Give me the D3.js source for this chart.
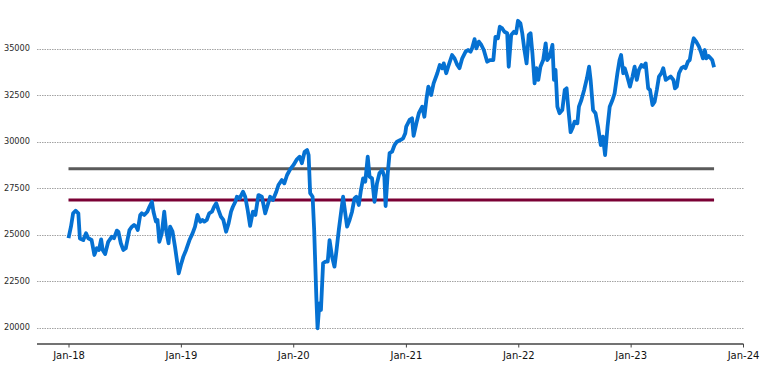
<!DOCTYPE html>
<html>
<head>
<meta charset="utf-8">
<script src="https://cdn.jsdelivr.net/npm/d3@7"></script>
<style>
  html, body { margin: 0; padding: 0; background: #ffffff; }
  svg { display: block; }
</style>
</head>
<body>
<svg id="chart" width="763" height="367"></svg>
<script>
// ---- data ----
const dates = [
  "2018-01-01","2018-01-09","2018-01-16","2018-01-24","2018-02-02","2018-02-07","2018-02-18","2018-02-27",
  "2018-03-06","2018-03-17","2018-03-26","2018-04-03","2018-04-10","2018-04-17","2018-04-22","2018-04-30",
  "2018-05-10","2018-05-22","2018-05-29","2018-06-07","2018-06-12","2018-06-20","2018-06-28","2018-07-06",
  "2018-07-18","2018-07-26","2018-08-02","2018-08-09","2018-08-14","2018-08-22","2018-08-27","2018-09-04",
  "2018-09-14","2018-09-21","2018-09-29","2018-10-04","2018-10-12","2018-10-17","2018-10-23","2018-10-31",
  "2018-11-08","2018-11-14","2018-11-22","2018-11-27","2018-12-05","2018-12-13","2018-12-19","2018-12-25",
  "2019-01-01","2019-01-09","2019-01-18","2019-01-29","2019-02-08","2019-02-16","2019-02-24","2019-03-05",
  "2019-03-12","2019-03-18","2019-03-26","2019-04-03","2019-04-12","2019-04-19","2019-04-26","2019-05-03",
  "2019-05-11","2019-05-19","2019-05-28","2019-06-05","2019-06-13","2019-06-19","2019-06-27","2019-07-02",
  "2019-07-11","2019-07-22","2019-07-29","2019-08-06","2019-08-14","2019-08-23","2019-08-31","2019-09-10",
  "2019-09-21","2019-10-02","2019-10-10","2019-10-18","2019-10-27","2019-11-07","2019-11-14","2019-11-25",
  "2019-12-03","2019-12-12","2019-12-22","2020-01-02","2020-01-13","2020-01-22","2020-01-29","2020-02-07",
  "2020-02-15","2020-02-20","2020-02-25","2020-03-04","2020-03-09","2020-03-16","2020-03-20","2020-03-26",
  "2020-03-31","2020-04-07","2020-04-14","2020-04-22","2020-04-28","2020-05-06","2020-05-14","2020-05-20",
  "2020-05-28","2020-06-04","2020-06-11","2020-06-18","2020-06-24","2020-07-02","2020-07-10","2020-07-18",
  "2020-07-24","2020-08-01","2020-08-08","2020-08-15","2020-08-22","2020-08-30","2020-09-05","2020-09-13",
  "2020-09-21","2020-09-29","2020-10-07","2020-10-16","2020-10-23","2020-10-27","2020-11-03","2020-11-09",
  "2020-11-17","2020-11-25","2020-12-03","2020-12-14","2020-12-23","2020-12-30","2021-01-02","2021-01-13",
  "2021-01-21","2021-01-26","2021-02-04","2021-02-12","2021-02-23","2021-03-02","2021-03-09","2021-03-15",
  "2021-03-24","2021-04-01","2021-04-13","2021-04-21","2021-04-29","2021-05-04","2021-05-12","2021-05-20",
  "2021-05-31","2021-06-08","2021-06-17","2021-06-24","2021-07-03","2021-07-14","2021-07-22","2021-07-30",
  "2021-08-04","2021-08-12","2021-08-18","2021-08-26","2021-09-03","2021-09-11","2021-09-22","2021-10-01",
  "2021-10-12","2021-10-19","2021-10-27","2021-11-02","2021-11-10","2021-11-17","2021-11-26","2021-12-01",
  "2021-12-09","2021-12-18","2021-12-25","2021-12-31","2022-01-08","2022-01-14","2022-01-21","2022-01-28",
  "2022-02-04","2022-02-10","2022-02-16","2022-02-23","2022-03-01","2022-03-07","2022-03-14","2022-03-23",
  "2022-03-31","2022-04-05","2022-04-13","2022-04-22","2022-04-27","2022-05-02","2022-05-08","2022-05-15",
  "2022-05-24","2022-06-01","2022-06-07","2022-06-13","2022-06-20","2022-06-27","2022-07-03","2022-07-12",
  "2022-07-17","2022-07-25","2022-08-03","2022-08-12","2022-08-19","2022-08-24","2022-09-01","2022-09-09",
  "2022-09-17","2022-09-26","2022-10-03","2022-10-10","2022-10-18","2022-10-25","2022-11-03","2022-11-10",
  "2022-11-19","2022-11-26","2022-12-01","2022-12-08","2022-12-13","2022-12-21","2022-12-30","2023-01-07",
  "2023-01-14","2023-01-21","2023-01-28","2023-02-05","2023-02-12","2023-02-19","2023-02-27","2023-03-05",
  "2023-03-13","2023-03-20","2023-03-27","2023-04-03","2023-04-11","2023-04-17","2023-04-25","2023-05-03",
  "2023-05-11","2023-05-20","2023-05-25","2023-05-31","2023-06-07","2023-06-15","2023-06-23","2023-06-28",
  "2023-07-06","2023-07-12","2023-07-20","2023-07-25","2023-08-02","2023-08-11","2023-08-19","2023-08-24",
  "2023-08-30","2023-09-04","2023-09-11","2023-09-18","2023-09-23","2023-09-29"
];

const values = [
  24800,25420,26140,26280,26140,24785,24700,25065,
  24800,24705,23900,24260,24170,24740,24170,23950,
  24610,24880,24800,25210,25150,24530,24170,24260,
  25240,25420,25510,25420,25240,26050,26140,26050,
  26226,26490,26760,26226,25690,25780,24610,25060,
  26226,25240,24530,25420,25150,24340,23630,22910,
  23360,23810,24170,24700,25060,25420,26050,25690,
  25780,25690,25780,26140,26226,26490,26680,26320,
  25960,25780,25150,25600,26226,26490,26760,27030,
  26940,27300,27030,26320,25460,26226,26050,27120,
  27030,26140,26585,27030,26855,27300,27660,27930,
  27750,28200,28505,28740,29040,29180,28830,29450,
  29540,29270,27220,27030,25240,21660,19960,21300,
  20940,23450,23540,23540,24700,23810,23270,24070,
  25240,26140,27030,26140,25420,25780,26226,26940,
  27030,26585,27390,28020,27840,29180,28110,28020,
  26760,27750,28290,28470,28110,26530,28290,29370,
  29450,29810,29990,30080,30170,30440,30800,31160,
  31250,30300,30980,31520,31870,31330,32320,32950,
  32500,33130,33670,34110,33940,34200,33670,34110,
  34650,34470,34110,33940,34470,34830,34920,34830,
  35010,35500,35010,35370,35190,34920,34290,34380,
  34380,35630,35550,36170,36080,35900,35820,34020,
  35730,35900,35820,36490,36350,35820,34920,34200,
  35730,35820,34740,33130,33940,33310,34020,34380,
  35280,34380,34560,35190,33310,33850,31870,31520,
  31690,32770,32860,31690,30500,30750,31070,30980,
  31870,32230,32770,33400,34020,33310,31690,31520,
  30800,29810,30260,29270,30800,31870,32230,32590,
  33670,34380,34650,33670,33940,33490,32950,33490,
  34020,33310,33850,34110,34020,34200,32860,32770,
  31960,32140,32770,33490,33670,33940,33310,33400,
  33490,33310,32860,32950,33670,33940,34020,33940,
  34290,34380,35190,35550,35370,35100,34740,34470,
  34920,34470,34600,34470,34380,33990
];

const meanLevel = 28540;    // grey horizontal line
const lowerLevel = 26860;   // dark red horizontal line

const yTicks = [20000, 22500, 25000, 27500, 30000, 32500, 35000];
const xTickDates = ["2018-01-01","2019-01-01","2020-01-01","2021-01-01","2022-01-01","2023-01-01","2024-01-01"];
const xTickLabels = ["Jan-18","Jan-19","Jan-20","Jan-21","Jan-22","Jan-23","Jan-24"];

// ---- drawing ----
const parse = d3.timeParse("%Y-%m-%d");
const data = dates.map((d, i) => ({ date: parse(d), value: values[i] }));

const svg = d3.select("#chart");
const plotLeft = 37, plotRight = 744, axisY = 344;

const x = d3.scaleTime()
  .domain([parse("2018-01-01"), parse("2024-01-01")])
  .range([68.5, 743]);

const y = d3.scaleLinear()
  .domain([20000, 35000])
  .range([327.5, 48.5]);

// grid lines
svg.append("g")
  .selectAll("line")
  .data(yTicks)
  .join("line")
  .attr("x1", plotLeft)
  .attr("x2", plotRight)
  .attr("y1", d => Math.round(y(d)) + 0.5)
  .attr("y2", d => Math.round(y(d)) + 0.5)
  .attr("stroke", "#a3a3a3")
  .attr("stroke-width", 1)
  .attr("stroke-dasharray", "1.5,1");

// y tick labels
svg.append("g")
  .selectAll("text")
  .data(yTicks)
  .join("text")
  .attr("x", 30)
  .attr("y", d => y(d))
  .attr("dy", "0.35em")
  .attr("text-anchor", "end")
  .attr("font-family", "DejaVu Sans, sans-serif")
  .attr("font-size", "8.2px")
  .attr("fill", "#2a2a2a")
  .text(d => d);

// horizontal reference lines over data span
const xStart = x(data[0].date), xEnd = x(data[data.length - 1].date);
svg.append("line")
  .attr("x1", xStart).attr("x2", xEnd)
  .attr("y1", y(meanLevel)).attr("y2", y(meanLevel))
  .attr("stroke", "#5a5a5a").attr("stroke-width", 3);
svg.append("line")
  .attr("x1", xStart).attr("x2", xEnd)
  .attr("y1", y(lowerLevel)).attr("y2", y(lowerLevel))
  .attr("stroke", "#7a0034").attr("stroke-width", 3);

// main series
const line = d3.line()
  .x(d => x(d.date))
  .y(d => y(d.value));

svg.append("path")
  .datum(data)
  .attr("d", line)
  .attr("fill", "none")
  .attr("stroke", "#0571d2")
  .attr("stroke-width", 3.8)
  .attr("stroke-linejoin", "round")
  .attr("stroke-linecap", "butt");

// x axis
const xTicks = xTickDates.map(parse);
const xAxis = d3.axisBottom(x)
  .tickValues(xTicks)
  .tickFormat((d, i) => xTickLabels[i])
  .tickSizeOuter(0)
  .tickSize(3.5)
  .tickPadding(4);

const gx = svg.append("g")
  .attr("transform", `translate(0,${axisY})`)
  .call(xAxis);
gx.select(".domain").remove();
gx.selectAll(".tick line").attr("stroke", "#444444").attr("stroke-width", 1);
gx.selectAll(".tick text")
  .attr("font-family", "DejaVu Sans, sans-serif")
  .attr("font-size", "10px")
  .attr("fill", "#111111");

gx.append("line")
  .attr("x1", plotLeft).attr("x2", 743.5)
  .attr("y1", 0).attr("y2", 0)
  .attr("stroke", "#444444")
  .attr("stroke-width", 1.3);
</script>
</body>
</html>
